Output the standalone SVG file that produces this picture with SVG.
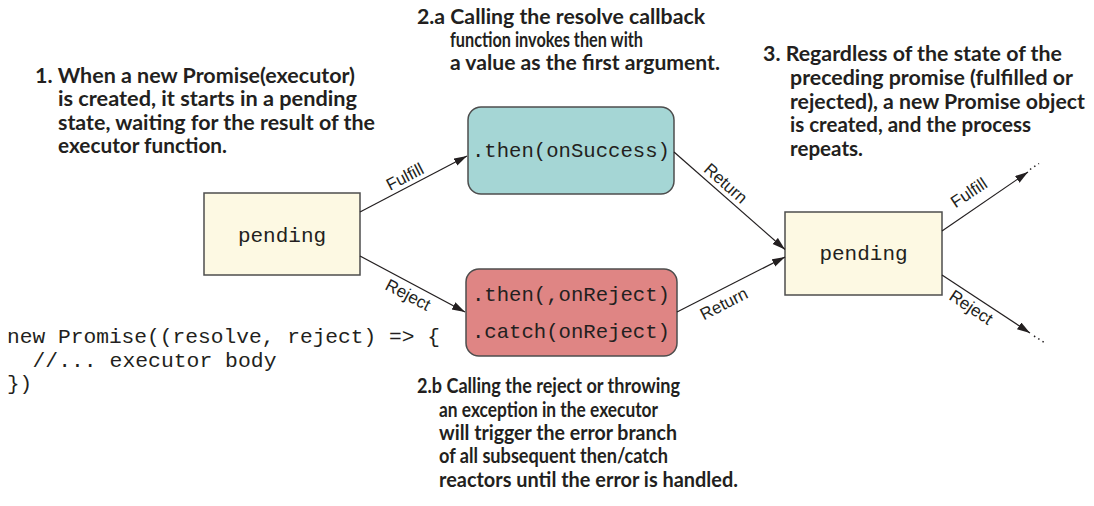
<svg xmlns="http://www.w3.org/2000/svg" width="1094" height="506" viewBox="0 0 1094 506">
<defs>
<marker id="ah" markerUnits="userSpaceOnUse" markerWidth="14" markerHeight="10" refX="13" refY="4" orient="auto"><path d="M0,0 L13,4 L0,8 z" fill="#231f20"/></marker>
<style>
.note{font-family:Lato,"Open Sans",sans-serif;font-weight:bold;font-size:21px;fill:#231f20}
.code{font-family:"Liberation Mono","Courier New",monospace;font-size:21px;fill:#231f20}
.lbl{font-family:"Liberation Sans",Arial,sans-serif;font-size:17px;fill:#231f20}
.conn{stroke:#231f20;stroke-width:1.2;fill:none}
.dots{stroke:#231f20;stroke-width:1.5;stroke-dasharray:1.5 3.5;fill:none}
.box{stroke:#4d4d4d;stroke-width:1.5}
</style>
</defs>
<rect x="0" y="0" width="1094" height="506" fill="#ffffff"/>

<g id="note1">
<text class="note" x="35" y="83" textLength="320" lengthAdjust="spacingAndGlyphs">1. When a new Promise(executor)</text>
<text class="note" x="58" y="106" textLength="299" lengthAdjust="spacingAndGlyphs">is created, it starts in a pending</text>
<text class="note" x="58" y="130" textLength="317" lengthAdjust="spacingAndGlyphs">state, waiting for the result of the</text>
<text class="note" x="58" y="153" textLength="169" lengthAdjust="spacingAndGlyphs">executor function.</text>
</g>

<g id="note2a">
<text class="note" x="417" y="23.5" textLength="288" lengthAdjust="spacingAndGlyphs">2.a Calling the resolve callback</text>
<text class="note" x="450" y="46.5" textLength="193" lengthAdjust="spacingAndGlyphs">function invokes then with</text>
<text class="note" x="450" y="69.5" textLength="270" lengthAdjust="spacingAndGlyphs">a value as the first argument.</text>
</g>

<g id="note3">
<text class="note" x="763" y="61" textLength="299" lengthAdjust="spacingAndGlyphs">3. Regardless of the state of the</text>
<text class="note" x="790" y="85" textLength="283" lengthAdjust="spacingAndGlyphs">preceding promise (fulfilled or</text>
<text class="note" x="790" y="108.5" textLength="295" lengthAdjust="spacingAndGlyphs">rejected), a new Promise object</text>
<text class="note" x="790" y="132" textLength="241" lengthAdjust="spacingAndGlyphs">is created, and the process</text>
<text class="note" x="790" y="155.5" textLength="73" lengthAdjust="spacingAndGlyphs">repeats.</text>
</g>

<g id="note2b">
<text class="note" x="417" y="393" textLength="263" lengthAdjust="spacingAndGlyphs">2.b Calling the reject or throwing</text>
<text class="note" x="439" y="416.5" textLength="219" lengthAdjust="spacingAndGlyphs">an exception in the executor</text>
<text class="note" x="439" y="440" textLength="238" lengthAdjust="spacingAndGlyphs">will trigger the error branch</text>
<text class="note" x="439" y="463" textLength="229" lengthAdjust="spacingAndGlyphs">of all subsequent then/catch</text>
<text class="note" x="439" y="487" textLength="299" lengthAdjust="spacingAndGlyphs">reactors until the error is handled.</text>
</g>

<g id="code">
<text class="code" x="7" y="343" textLength="433" lengthAdjust="spacingAndGlyphs">new Promise((resolve, reject) =&gt; {</text>
<text class="code" x="32.5" y="366.5" textLength="244" lengthAdjust="spacingAndGlyphs">//... executor body</text>
<text class="code" x="7" y="390">})</text>
</g>

<g id="pending1">
<rect class="box" x="204" y="193" width="156" height="82" fill="#fdf9e3"/>
<text class="code" x="282" y="241.5" text-anchor="middle">pending</text>
</g>

<g id="thenSuccess">
<rect class="box" x="468" y="107" width="206" height="87" rx="13" fill="#a5d6d5"/>
<text class="code" x="472" y="157" textLength="198" lengthAdjust="spacingAndGlyphs">.then(onSuccess)</text>
</g>

<g id="thenReject">
<rect class="box" x="466" y="269" width="211" height="87" rx="13" fill="#df8584"/>
<text class="code" x="472" y="301" textLength="198" lengthAdjust="spacingAndGlyphs">.then(,onReject)</text>
<text class="code" x="472" y="338" textLength="198" lengthAdjust="spacingAndGlyphs">.catch(onReject)</text>
</g>

<g id="pending2">
<rect class="box" x="785" y="212" width="157" height="83" fill="#fdf9e3"/>
<text class="code" x="863.5" y="260" text-anchor="middle">pending</text>
</g>

<g id="connectors">
<path class="conn" d="M360,212 L467,156" marker-end="url(#ah)"/>
<path class="conn" d="M360,256 L465,312" marker-end="url(#ah)"/>
<path class="conn" d="M674,152 L785,249.5" marker-end="url(#ah)"/>
<path class="conn" d="M677,312 L785,257" marker-end="url(#ah)"/>
<path class="conn" d="M942,231 L1028,172" marker-end="url(#ah)"/>
<path class="conn" d="M942,275 L1030,333" marker-end="url(#ah)"/>
<path class="dots" d="M1030,169.5 L1039,163.5"/>
<path class="dots" d="M1034,336 L1045,343"/>
<g class="lbl" text-anchor="middle" dominant-baseline="central">
<text transform="translate(405,177) rotate(-27.4)">Fulfill</text>
<text transform="translate(408,295) rotate(27.8)">Reject</text>
<text transform="translate(725.5,183.5) rotate(41.4)">Return</text>
<text transform="translate(724,304) rotate(-27)">Return</text>
<text transform="translate(969,193) rotate(-33.5)">Fulfill</text>
<text transform="translate(971,307.5) rotate(33.7)">Reject</text>
</g>
</g>
</svg>
